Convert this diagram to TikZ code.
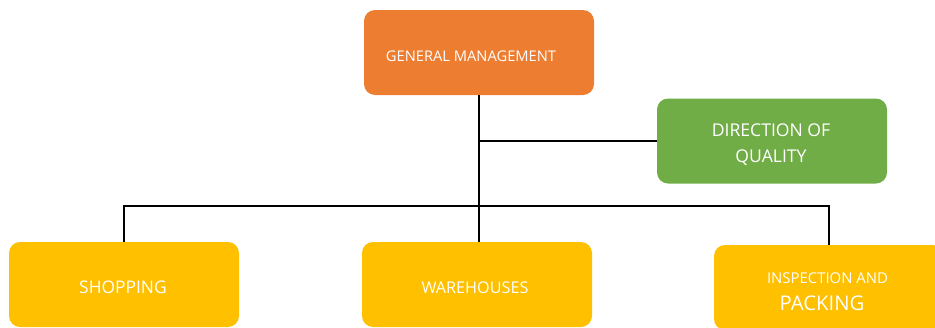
\documentclass[tikz,border=0pt]{standalone}
\usepackage{fontspec}
\setmainfont{Open Sans}
\definecolor{mgmtorange}{HTML}{ED7D31}
\definecolor{qualgreen}{HTML}{70AD47}
\definecolor{deptgold}{HTML}{FFC000}
\begin{document}
\begin{tikzpicture}[x=1pt,y=-1pt,
  box/.style={rounded corners=11pt, minimum width=230pt, minimum height=85pt,
    inner sep=0pt, draw=none},
  lbl/.style={text=white, inner sep=0pt, align=center},
  link/.style={draw=black, line width=1.1pt}]
\useasboundingbox (0,0) rectangle (935,327);

% boxes
\node[box, fill=mgmtorange] (gm)   at (479,52.5)  {};
\node[box, fill=qualgreen]  (doq)  at (772,141)   {};
\node[box, fill=deptgold]   (shop) at (124,284.5) {};
\node[box, fill=deptgold]   (wh)   at (477,284.5) {};
\node[box, fill=deptgold]   (insp) at (829,287.5) {};

% labels
\node[lbl, font=\fontsize{14.7}{16}\selectfont] (gmt) at (471,56) {GENERAL MANAGEMENT};
\node[lbl, font=\fontsize{17.6}{26}\selectfont] (doqt) at (771,145) {DIRECTION OF\\QUALITY};
\node[lbl, font=\fontsize{17.4}{20}\selectfont] (shopt) at (123,287) {SHOPPING};
\node[lbl, font=\fontsize{16.2}{20}\selectfont] (wht) at (475,288) {WAREHOUSES};
\node[lbl, font=\fontsize{14.9}{18}\selectfont] (inspt1) at (827.5,278.5) {INSPECTION AND};
\node[lbl, font=\fontsize{20.3}{22}\selectfont] (inspt2) at (822,303.5) {PACKING};

% connectors
\coordinate (bus) at (479,206);
\draw[link] (gm.south) -- (gm.south |- wh.north);
\draw[link] (gm.south |- doq.west) -- (doq.west);
\draw[link] (shop.north) |- (bus) -| (insp.north);
\end{tikzpicture}
\end{document}
